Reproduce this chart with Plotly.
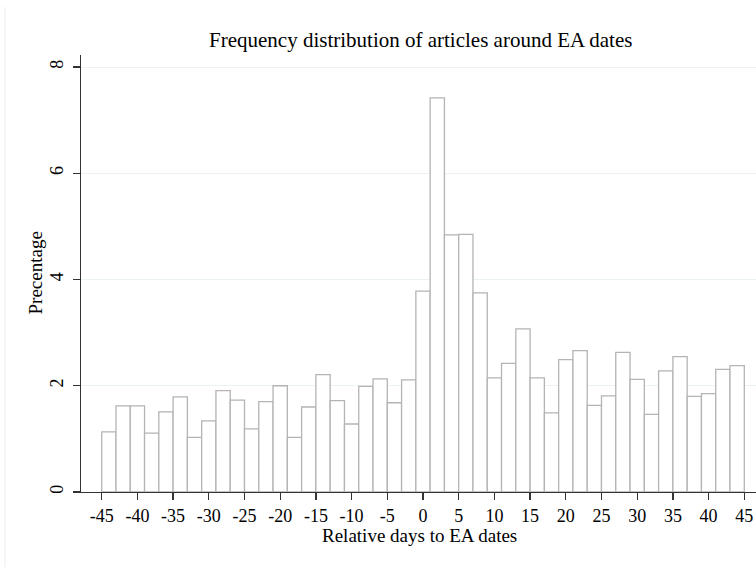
import plotly.graph_objects as go

# Bin centres (days relative to EA date), bin width 2
bin_centers = [-44, -42, -40, -38, -36, -34, -32, -30, -28, -26, -24, -22, -20, -18, -16,
               -14, -12, -10, -8, -6, -4, -2, 0, 2, 4, 6, 8, 10, 12, 14,
               16, 18, 20, 22, 24, 26, 28, 30, 32, 34, 36, 38, 40, 42, 44]
percentages = [1.13, 1.62, 1.62, 1.11, 1.51, 1.79, 1.03, 1.34, 1.91, 1.73,
               1.19, 1.70, 2.00, 1.03, 1.60, 2.21, 1.72, 1.28, 1.99, 2.13,
               1.68, 2.11, 3.78, 7.42, 4.84, 4.85, 3.75, 2.15, 2.42, 3.07,
               2.15, 1.49, 2.49, 2.66, 1.63, 1.81, 2.63, 2.12, 1.46, 2.28,
               2.55, 1.80, 1.85, 2.31, 2.38]
bin_width = 2
x_ticks = [-45, -40, -35, -30, -25, -20, -15, -10, -5, 0, 5, 10, 15, 20, 25, 30, 35, 40, 45]
y_ticks = [0, 2, 4, 6, 8]

title_text = "Frequency distribution of articles around EA dates"
x_title = "Relative days to EA dates"
y_title = "Precentage"

FONT = "Liberation Serif, Times New Roman, serif"

fig = go.Figure()
fig.add_trace(go.Bar(
    x=bin_centers, y=percentages, width=[bin_width] * len(bin_centers),
    marker=dict(color="white", line=dict(color="#b4b4b4", width=1.3)),
    showlegend=False, hoverinfo="skip",
))

L, R, T, B = 81, 0, 55, 75
W, H = 756, 567
pw, ph = W - L - R, H - T - B

fig.update_layout(
    width=W, height=H,
    margin=dict(l=L, r=R, t=T, b=B, pad=0),
    paper_bgcolor="white", plot_bgcolor="white",
    font=dict(family=FONT, color="black", size=18),
    bargap=0,
    xaxis=dict(
        range=[-47.9, 46.64], tickvals=x_ticks, ticktext=[str(v) for v in x_ticks],
        showgrid=False, zeroline=False, showline=True, linecolor="#333333", linewidth=1.3,
        ticks="outside", ticklen=7, tickwidth=1.3, tickcolor="#333333",
        tickfont=dict(family=FONT, size=18, color="black"),
    ),
    yaxis=dict(
        range=[0, 8.226], tickvals=y_ticks, ticktext=[str(v) for v in y_ticks],
        showgrid=True, gridcolor="#eaf2f3", gridwidth=1, zeroline=False,
        showline=True, linecolor="#333333", linewidth=1.3,
        ticks="outside", ticklen=7, tickwidth=1.3, tickcolor="#333333",
        tickangle=-90, ticklabelstandoff=3,
        tickfont=dict(family=FONT, size=18, color="black"),
    ),
    annotations=[
        dict(text=title_text, xref="paper", yref="paper", x=(420 - L) / pw, y=1,
             xanchor="center", yanchor="middle", yshift=55 - 40, showarrow=False,
             font=dict(family=FONT, size=21, color="black")),
        dict(text=x_title, xref="paper", yref="paper", x=(419 - L) / pw, y=0,
             xanchor="center", yanchor="middle", yshift=-(535 - (H - B)), showarrow=False,
             font=dict(family=FONT, size=19, color="black")),
        dict(text=y_title, xref="paper", yref="paper", x=0, y=0.5, textangle=-90,
             xanchor="center", yanchor="middle", xshift=35 - L, showarrow=False,
             font=dict(family=FONT, size=19, color="black")),
    ],
    shapes=[
        dict(type="line", xref="paper", yref="paper",
             x0=(5 - L) / pw, x1=(5 - L) / pw,
             y0=((H - B) - (H + 5)) / ph, y1=((H - B) - 7) / ph,
             line=dict(color="#ececec", width=1), layer="below"),
    ],
)

fig.write_html("out.html", config={"displayModeBar": False, "staticPlot": True})

# remove the browser's default page margin so the figure sits at the window origin
with open("out.html", "r", encoding="utf-8") as f:
    html = f.read()
html = html.replace("<head>", "<head><style>html,body{margin:0;padding:0;overflow:hidden;}</style>", 1)
with open("out.html", "w", encoding="utf-8") as f:
    f.write(html)
